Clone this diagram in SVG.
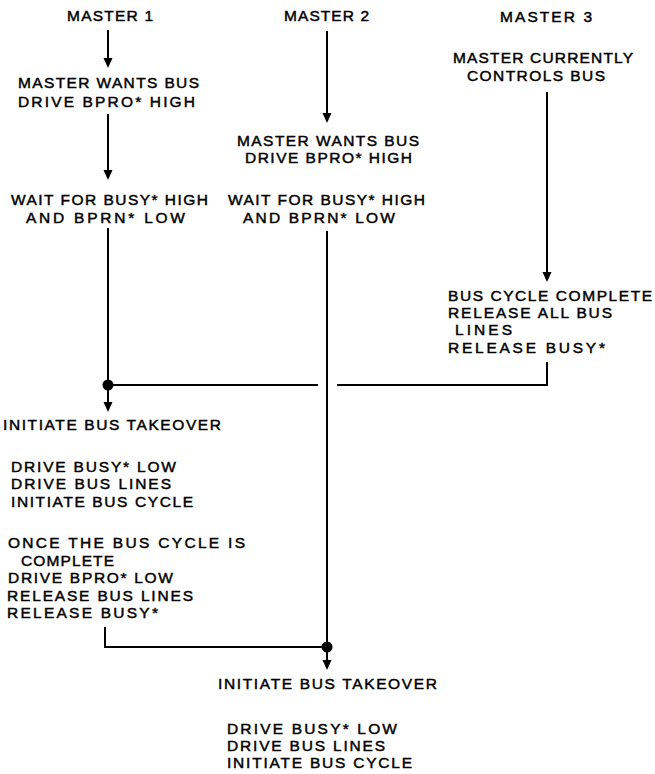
<svg xmlns="http://www.w3.org/2000/svg" width="655" height="774" viewBox="0 0 655 774">
  <defs>
    <style>
      text { font-family: "Liberation Sans", Arial, sans-serif; font-size: 15.5px; fill: #000; stroke: #000; stroke-width: 0.45; }
      .wire { fill: none; stroke: #000; stroke-width: 2; }
      .arrow { fill: none; stroke: #000; stroke-width: 2; marker-end: url(#head); }
      .dot { fill: #000; }
    </style>
    <marker id="head" markerUnits="userSpaceOnUse" markerWidth="10" markerHeight="10" refX="0" refY="4.5" orient="auto">
      <path d="M0,0 L10,4.5 L0,9 Z" fill="#000"/>
    </marker>
  </defs>
  <rect width="655" height="774" fill="#fff"/>

  <!-- flow lines, junctions and arrowheads -->
  <g id="connectors">
    <line class="arrow" x1="108" y1="30" x2="108" y2="58"/>
    <line class="arrow" x1="108" y1="114" x2="108" y2="170"/>
    <line class="arrow" x1="327" y1="31" x2="327" y2="113"/>
    <line class="arrow" x1="547" y1="92" x2="547" y2="272"/>
    <line class="wire" x1="108" y1="228" x2="108" y2="385"/>
    <line class="arrow" x1="108" y1="385" x2="108" y2="402"/>
    <line class="wire" x1="108" y1="385" x2="318" y2="385"/>
    <path class="wire" d="M547,362 V385 H337"/>
    <line class="wire" x1="327" y1="231" x2="327" y2="647"/>
    <line class="arrow" x1="327" y1="647" x2="327" y2="660"/>
    <path class="wire" d="M105,627 V647 H327"/>
    <circle class="dot" cx="108" cy="385" r="5.5"/>
    <circle class="dot" cx="327" cy="647" r="5.5"/>
  </g>

  <!-- master 1 -->
  <g id="m1-title"><text x="67" y="21" textLength="86" lengthAdjust="spacing">MASTER 1</text></g>
  <g id="m1-wants">
    <text x="18" y="88" textLength="181" lengthAdjust="spacing">MASTER WANTS BUS</text>
    <text x="18" y="107" textLength="177" lengthAdjust="spacing">DRIVE  BPRO*  HIGH</text>
  </g>
  <g id="m1-wait">
    <text x="11" y="205" textLength="197" lengthAdjust="spacing">WAIT FOR BUSY* HIGH</text>
    <text x="26" y="223" textLength="159" lengthAdjust="spacing">AND  BPRN*  LOW</text>
  </g>
  <g id="m1-takeover"><text x="3" y="430" textLength="218" lengthAdjust="spacing">INITIATE BUS TAKEOVER</text></g>
  <g id="m1-drive">
    <text x="11" y="472" textLength="165" lengthAdjust="spacing">DRIVE BUSY* LOW</text>
    <text x="11" y="489" textLength="160" lengthAdjust="spacing">DRIVE BUS LINES</text>
    <text x="11" y="507" textLength="182" lengthAdjust="spacing">INITIATE BUS CYCLE</text>
  </g>
  <g id="m1-release">
    <text x="8" y="548" textLength="237" lengthAdjust="spacing">ONCE THE BUS CYCLE IS</text>
    <text x="21" y="566" textLength="93" lengthAdjust="spacing">COMPLETE</text>
    <text x="8" y="583" textLength="165" lengthAdjust="spacing">DRIVE BPRO* LOW</text>
    <text x="7" y="601" textLength="186" lengthAdjust="spacing">RELEASE BUS LINES</text>
    <text x="7" y="618" textLength="151" lengthAdjust="spacing">RELEASE BUSY*</text>
  </g>

  <!-- master 2 -->
  <g id="m2-title"><text x="284" y="21" textLength="85" lengthAdjust="spacing">MASTER 2</text></g>
  <g id="m2-wants">
    <text x="237" y="146" textLength="182" lengthAdjust="spacing">MASTER WANTS BUS</text>
    <text x="245" y="163" textLength="167" lengthAdjust="spacing">DRIVE BPRO*  HIGH</text>
  </g>
  <g id="m2-wait">
    <text x="228" y="205" textLength="197" lengthAdjust="spacing">WAIT FOR BUSY* HIGH</text>
    <text x="243" y="223" textLength="152" lengthAdjust="spacing">AND  BPRN*  LOW</text>
  </g>
  <g id="m2-takeover"><text x="218" y="689" textLength="219" lengthAdjust="spacing">INITIATE BUS TAKEOVER</text></g>
  <g id="m2-drive">
    <text x="227" y="734" textLength="170" lengthAdjust="spacing">DRIVE BUSY* LOW</text>
    <text x="227" y="751" textLength="158" lengthAdjust="spacing">DRIVE BUS LINES</text>
    <text x="227" y="768" textLength="185" lengthAdjust="spacing">INITIATE BUS CYCLE</text>
  </g>

  <!-- master 3 -->
  <g id="m3-title"><text x="500" y="22" textLength="92" lengthAdjust="spacing">MASTER  3</text></g>
  <g id="m3-controls">
    <text x="453" y="63" textLength="180" lengthAdjust="spacing">MASTER CURRENTLY</text>
    <text x="467" y="81" textLength="138" lengthAdjust="spacing">CONTROLS  BUS</text>
  </g>
  <g id="m3-complete">
    <text x="448" y="301" textLength="204" lengthAdjust="spacing">BUS CYCLE COMPLETE</text>
    <text x="448" y="318" textLength="164" lengthAdjust="spacing">RELEASE ALL BUS</text>
    <text x="455" y="335" textLength="57" lengthAdjust="spacing">LINES</text>
    <text x="448" y="353" textLength="157" lengthAdjust="spacing">RELEASE BUSY*</text>
  </g>
</svg>
